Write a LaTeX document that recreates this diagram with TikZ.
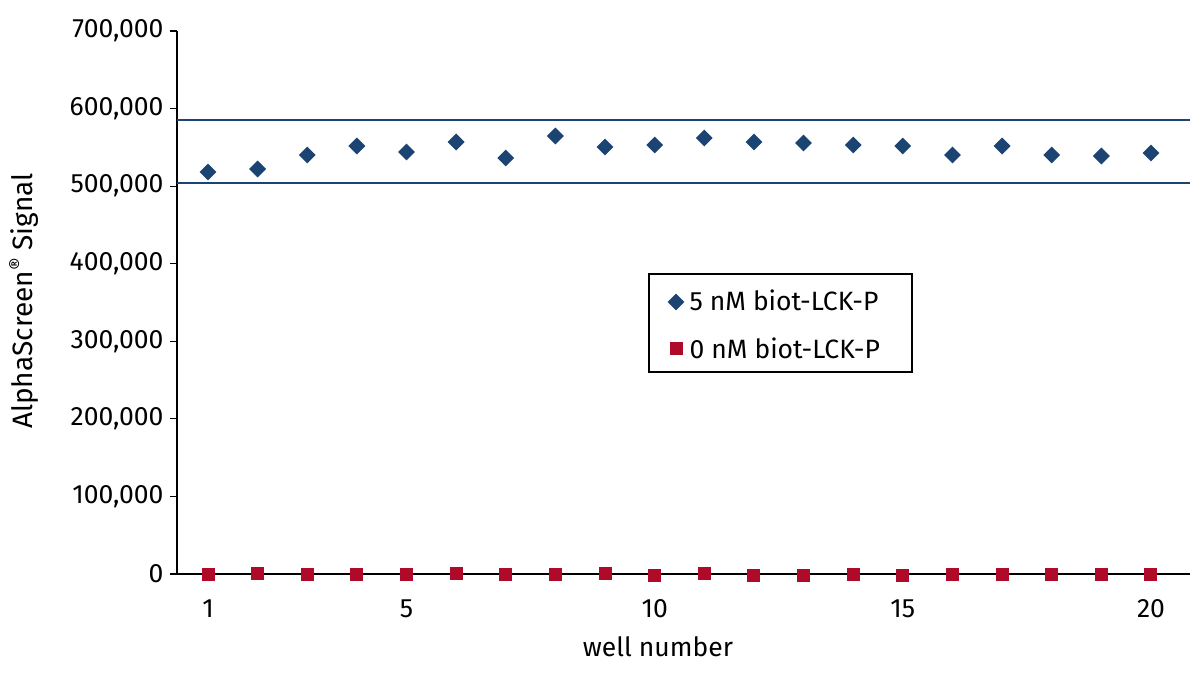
\documentclass[tikz,border=0pt]{standalone}
\usepackage{fontspec}
\setmainfont{Fira Sans}
\usetikzlibrary{shapes.geometric}
\definecolor{navy}{HTML}{1B4472}
\definecolor{crim}{HTML}{B00A2A}
\begin{document}
\begin{tikzpicture}[x=1pt,y=-1pt,
  dia/.style={diamond,fill=navy,inner sep=0pt,minimum width=17pt,minimum height=17pt},
  sq/.style={rectangle,fill=crim,inner sep=0pt,minimum size=13pt},
  lab/.style={font=\fontsize{26.5}{28}\selectfont}]
\useasboundingbox (0,0) rectangle (1200,677);
% axes
\coordinate (o) at (177,574);
\coordinate (top) at (177,31);
\coordinate (xe) at (1190,574);
\draw[line width=1.5pt] (top) -- (o) -- (xe);
\foreach \v/\t in {0/0,1/100{,}000,2/200{,}000,3/300{,}000,4/400{,}000,5/500{,}000,6/600{,}000,7/700{,}000}{
  \pgfmathsetmacro{\yy}{574-77.57*\v}
  \draw[line width=1.2pt] (170,\yy) -- (177,\yy);
  \node[lab,anchor=east] (yl\v) at (167,\yy) {\t};
}
\foreach \w in {1,5,10,15,20}{
  \pgfmathsetmacro{\xx}{208+49.63*(\w-1)}
  \draw[line width=1.2pt] (\xx,574) -- (\xx,581);
  \node[lab] (xl\w) at (\xx,609) {\w};
}
\node[lab] (xt) at (658,647) {well number};
\node[font=\fontsize{28}{30}\selectfont,rotate=90] (yt) at (24,301) {AlphaScreen\textsuperscript{®} Signal};
% limit lines
\draw[navy,line width=1.2pt] (177,120) -- (1190,120);
\draw[navy,line width=1.2pt] (177,183) -- (1190,183);
% data
\foreach \y [count=\i] in {172,169,155,146,152,142,158,136,147,145,138,142,143,145,146,155,146,155,156,153}{
  \pgfmathsetmacro{\xx}{208+49.63*(\i-1)}
  \node[dia] (d\i) at (\xx,\y) {};
}
\foreach \y [count=\i] in {574,573,574,574,574,573,574,574,573,575,573,575,575,574,575,574,574,574,574,574}{
  \pgfmathsetmacro{\xx}{208+49.63*(\i-1)}
  \node[sq] (s\i) at (\xx,\y) {};
}
% legend
\draw[line width=1.2pt,fill=white] (649,274) rectangle (912,372);
\node[dia] (ld) at (676,302) {};
\node[lab,anchor=west] (lt1) at (686,300) {5 nM biot-LCK-P};
\node[sq] (ls) at (676,348) {};
\node[lab,anchor=west] (lt2) at (686,348) {0 nM biot-LCK-P};
\end{tikzpicture}
\end{document}
